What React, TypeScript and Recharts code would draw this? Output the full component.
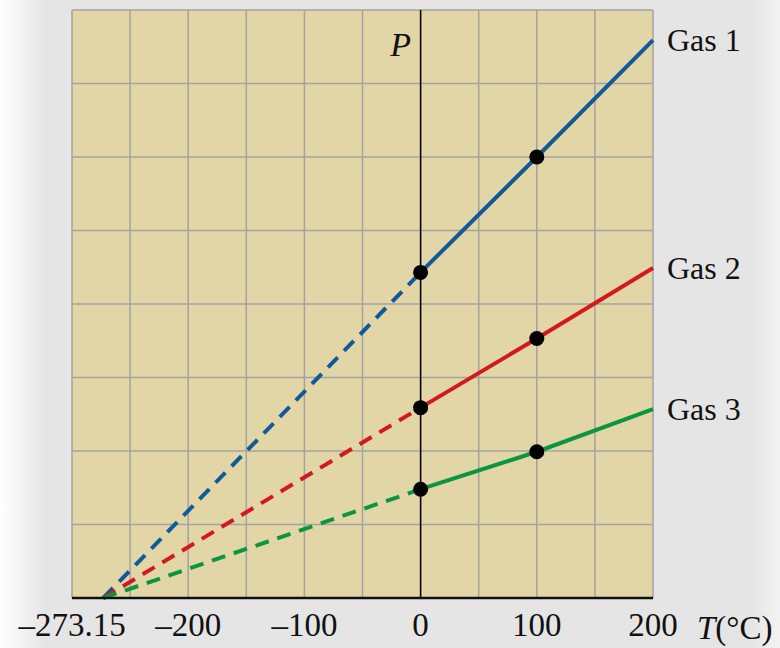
import { LineChart, Line, XAxis, YAxis, CartesianGrid, ReferenceLine, LabelList, Label } from "recharts";

// temperature (°C) where each pressure reading sits
const temps = [-273.15, 0, 100, 200];
const gas1 = [0, 4.43, 6.0, 7.59];
const gas2 = [0, 2.59, 3.53, 4.49];
const gas3 = [0, 1.48, 1.99, 2.57];

const gasNames = ["Gas 1", "Gas 2", "Gas 3"];
const gasColors = ["#105a9b", "#d3191f", "#0c9540"];

const markedTemps = [0, 100];
const gridTicksT = [-300, -250, -200, -150, -100, -50, 0, 50, 100, 150, 200];
const gridTicksP = [0, 1, 2, 3, 4, 5, 6, 7, 8];
const tickValues = [-273.15, -200, -100, 0, 100, 200];
const tickLabels = ["–273.15", "–200", "–100", "0", "100", "200"];

const series = [gas1, gas2, gas3];

// dashed part = extrapolation below 0 °C, solid part = measured range
const rows = temps.map((T, i) => {
  const row: Record<string, number | null> = { T };
  series.forEach((vals, g) => {
    row[`d${g}`] = T <= 0 ? vals[i] : null;
    row[`s${g}`] = T >= 0 ? vals[i] : null;
  });
  return row;
});

const serif = "'Liberation Serif', 'Times New Roman', serif";

const Tick = (props: any) => {
  const { x, y, payload } = props;
  const idx = tickValues.indexOf(payload.value);
  const shift = idx === 0 ? -31 : 0;
  return (
    <text x={x + shift} y={y + 30} textAnchor="middle" fontFamily={serif} fontSize={33} fill="#111">
      {tickLabels[idx]}
    </text>
  );
};

const Dot = (props: any) => {
  const { cx, cy, payload } = props;
  if (!markedTemps.includes(payload.T) || cy == null) return <g key={props.index} />;
  return <ellipse key={props.index} cx={cx} cy={cy} rx={7.5} ry={7.5} fill="#000" />;
};

const gasLabel = (g: number) => (props: any) => {
  const { x, y, index } = props;
  if (index !== temps.length - 1) return null;
  return (
    <text x={x + 14} y={y + 11} fontFamily={serif} fontSize={32} fill="#111">
      {gasNames[g]}
    </text>
  );
};

export default function App() {
  return (
    <div
      style={{
        position: "absolute",
        left: 0,
        top: 0,
        width: 780,
        height: 648,
        background: "linear-gradient(to right, #ffffff 0px, #e5e5e5 45px, #e5e5e5 750px, #f3f3f3 780px)",
      }}
    >
      <LineChart width={780} height={648} data={rows} margin={{ top: 10, right: 127, bottom: 0, left: 72 }}>
        <CartesianGrid xAxisId="grid" fill="#e3d6a6" stroke="#a2a2a2" strokeWidth={1.5} />
        <XAxis
          dataKey="T"
          type="number"
          domain={[-300, 200]}
          ticks={tickValues}
          tick={<Tick />}
          tickLine={false}
          axisLine={{ stroke: "#111", strokeWidth: 2.5 }}
          height={50}
          interval={0}
        >
          <Label
            content={(p: any) => {
              const vb = p.viewBox;
              return (
                <text x={vb.x + vb.width + 44} y={vb.y + 41} fontFamily={serif} fontSize={33} fill="#111">
                  <tspan fontStyle="italic">T</tspan>
                  <tspan>(°C)</tspan>
                </text>
              );
            }}
          />
        </XAxis>
        <XAxis xAxisId="grid" dataKey="T" type="number" domain={[-300, 200]} ticks={gridTicksT} hide />
        <YAxis type="number" domain={[0, 8]} ticks={gridTicksP} hide />
        <ReferenceLine
          x={0}
          stroke="#000"
          strokeWidth={1.5}
          label={(p: any) => {
            const vb = p.viewBox;
            return (
              <text x={vb.x - 20} y={vb.y + 46} textAnchor="middle" fontFamily={serif} fontStyle="italic" fontSize={34} fill="#111">
                P
              </text>
            );
          }}
        />
        {series.map((_, g) => (
          <Line
            key={`d${g}`}
            dataKey={`d${g}`}
            type="linear"
            stroke={gasColors[g]}
            strokeWidth={4}
            strokeDasharray="14 9"
            dot={false}
            activeDot={false}
            isAnimationActive={false}
          />
        ))}
        {series.map((_, g) => (
          <Line
            key={`s${g}`}
            dataKey={`s${g}`}
            type="linear"
            stroke={gasColors[g]}
            strokeWidth={4}
            dot={<Dot />}
            activeDot={false}
            isAnimationActive={false}
          >
            <LabelList dataKey={`s${g}`} content={gasLabel(g)} />
          </Line>
        ))}
      </LineChart>
    </div>
  );
}
